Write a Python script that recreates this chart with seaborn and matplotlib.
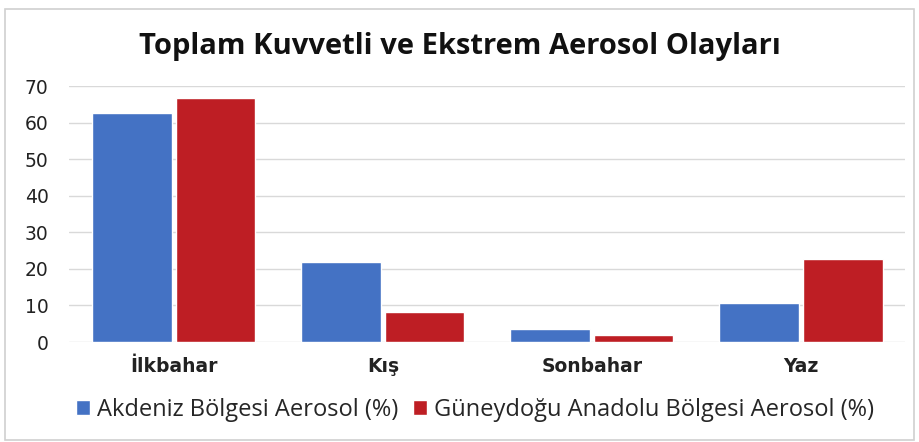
import matplotlib
matplotlib.use("Agg")
import matplotlib.pyplot as plt
import seaborn as sns
import pandas as pd
from matplotlib.patches import Rectangle

categories = ["İlkbahar", "Kış", "Sonbahar", "Yaz"]
series_names = ["Akdeniz Bölgesi Aerosol (%)", "Güneydoğu Anadolu Bölgesi Aerosol (%)"]
akdeniz = [62.7, 21.9, 3.6, 10.8]
guneydogu = [66.7, 8.2, 1.8, 22.6]
yticks = [0, 10, 20, 30, 40, 50, 60, 70]
colors = ["#4472C4", "#BE1E24"]

df = pd.DataFrame({
    "Mevsim": categories * 2,
    "Seri": [series_names[0]] * 4 + [series_names[1]] * 4,
    "Değer": akdeniz + guneydogu,
})

sns.set_theme(style="white")
plt.rcParams['font.family'] = ['DejaVu Sans']

fig = plt.figure(figsize=(9.19, 4.42), dpi=100)
ax = fig.add_axes([0.0756, 0.2262, 0.9097, 0.5792])

sns.barplot(data=df, x="Mevsim", y="Değer", hue="Seri", palette=colors,
            width=0.8, gap=0.05, ax=ax, saturation=1, errorbar=None)

ax.set_ylim(0, 70)
ax.set_yticks(yticks)
ax.set_yticklabels([str(t) for t in yticks], fontsize=13.5, color="#222222")
ax.yaxis.grid(True, color="#D9D9D9", linewidth=1)
ax.set_axisbelow(True)
for s in ax.spines.values():
    s.set_visible(False)
ax.tick_params(axis="y", length=0, pad=15)
ax.tick_params(axis="x", length=0, pad=11)
ax.set_xlabel("")
ax.set_ylabel("")
for lbl in ax.get_xticklabels():
    lbl.set_fontweight("bold")
    lbl.set_fontsize(13.5)
    lbl.set_color("#222222")
ax.set_xlim(-0.5, 3.5)

ax.legend_.remove()
handles, labels = ax.get_legend_handles_labels()
fig.legend(handles, labels, loc="center", bbox_to_anchor=(0.517, 0.072), ncol=2,
           frameon=False, handlelength=0.6, handleheight=0.6,
           handletextpad=0.3, columnspacing=0.6,
           prop={"family": "Open Sans", "size": 17})

fig.text(0.5, 0.895, "Toplam Kuvvetli ve Ekstrem Aerosol Olayları",
         ha="center", va="center", fontsize=21, fontweight="bold", color="#111111",
         family="Open Sans")

fig.patches.append(Rectangle((0.005, 0.005), 0.99, 0.975, transform=fig.transFigure,
                             fill=False, edgecolor="#D0D0D0", linewidth=1.2))

fig.savefig("out.png", dpi=100)
